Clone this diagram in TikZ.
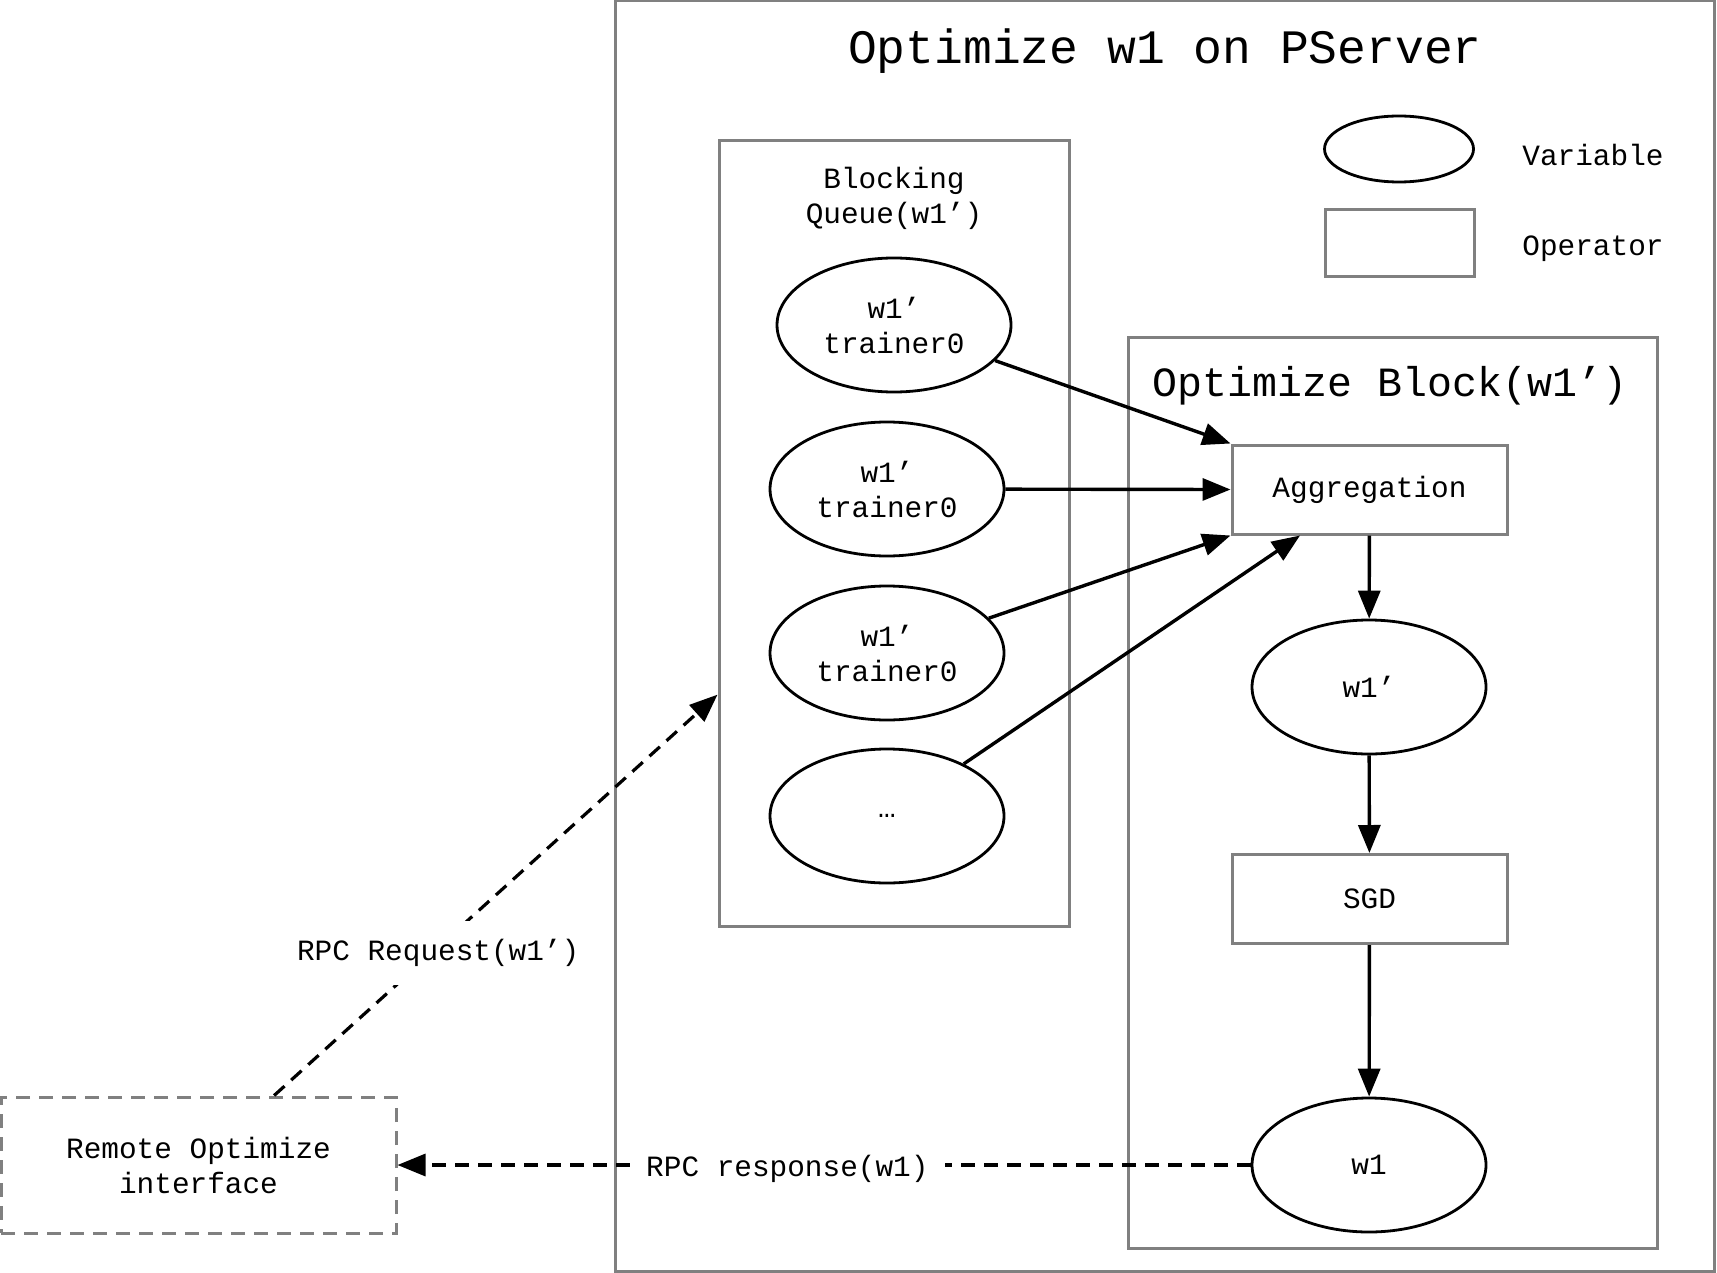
\documentclass[tikz,border=0pt]{standalone}
\usepackage{fontspec}
\setmainfont{Liberation Mono}
\usetikzlibrary{shapes.geometric,arrows.meta,calc}
\definecolor{frame}{HTML}{808080}

\begin{document}
\begin{tikzpicture}[x=0.5pt,y=-0.5pt]
\tikzstyle{every node}+=[inner sep=0pt]
\tikzstyle{lbl}=[font=\fontsize{14.7}{17.5}\selectfont]
\tikzstyle{var}=[lbl, draw=black, line width=1.4pt, ellipse, minimum width=117pt, minimum height=67pt, align=center]
\tikzstyle{op}=[lbl, draw=frame, line width=1.5pt, rectangle, minimum width=137.5pt, minimum height=44.5pt]
\tikzstyle{box}=[draw=frame, line width=1.5pt]
\tikzstyle{flow}=[black, line width=1.7pt, -{Triangle[length=14pt,width=11pt]}]
\tikzstyle{rpc}=[flow, line width=1.6pt, dash pattern=on 7pt off 4.5pt]
\tikzstyle{cut}=[lbl, fill=white, inner xsep=8pt, inner ysep=9pt]

\useasboundingbox (0,0) rectangle (1717,1273);
\fill [white] (0,0) rectangle (1717,1273);

% frames
\draw [box] (615,1) rectangle (1714,1271);
\node [box, minimum width=175pt, minimum height=392.5pt] (queue) at (894,533.5) {};
\draw [box] (1128,337) rectangle (1657,1248);

% titles
\node [font=\fontsize{24}{28}\selectfont] (title) at (1165,51) {Optimize w1 on PServer};
\node [font=\fontsize{20.8}{24}\selectfont] (btitle) at (1390,386) {Optimize Block(w1’)};
\node [lbl, align=center] (qtitle) at (894,198) {Blocking\\Queue(w1’)};

% legend
\node [var, minimum width=74.5pt, minimum height=33pt] (lvar) at (1399,149) {};
\node [op, minimum width=74.5pt, minimum height=33pt] (lop) at (1399.5,243) {};
\node [lbl, anchor=west] (lvartext) at (1522,155) {Variable};
\node [lbl, anchor=west] (loptext) at (1522,249) {Operator};

% queue
\node [var] (t1) at (894,325) {w1’\\trainer0};
\node [var] (t2) at (887,489) {w1’\\trainer0};
\node [var] (t3) at (887,653) {w1’\\trainer0};
\node [var] (t4) at (887,816) {…};

% optimize block
\node [op] (agg) at (1369.5,489.5) {Aggregation};
\node [var] (w1p) at (1369,687) {w1’};
\node [op] (sgd) at (1369.5,899) {SGD};
\node [var] (w1) at (1369,1165) {w1};

% remote side
\node [lbl, draw=frame, line width=1.5pt, dash pattern=on 7pt off 4.5pt, minimum width=197.5pt, minimum height=68pt, align=center] (remote) at (198.5,1165) {Remote Optimize\\interface};

\draw [flow] (t1) -- (agg.north west);
\draw [flow] (t2) -- (agg.west);
\draw [flow] (t3) -- (agg.south west);
\draw [flow] (t4) -- ($(agg.south west)!0.25!(agg.south east)$);
\draw [flow] (agg) -- (w1p);
\draw [flow] (w1p) -- (sgd);
\draw [flow] (sgd) -- (w1);

\coordinate (rpcout) at ($(remote.north west)!0.69!(remote.north east)$);
\coordinate (rpcin) at ($(queue.south west)!0.2955!(queue.north west)$);
\draw [rpc] (rpcout) -- node [cut, pos=0.37, yshift=-3pt] (reqlbl) {RPC Request(w1’)} (rpcin);
\draw [rpc] (w1) -- node [cut, pos=0.543, yshift=-2pt] (reslbl) {RPC response(w1)} (remote);
\end{tikzpicture}
\end{document}
